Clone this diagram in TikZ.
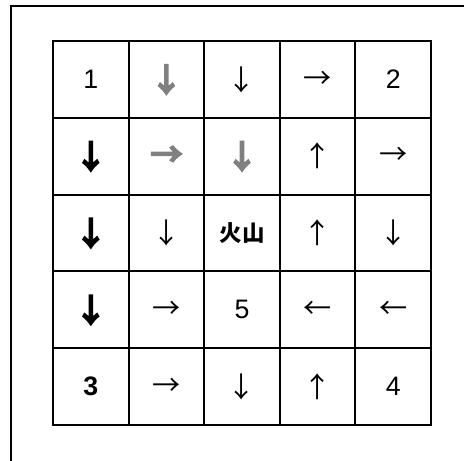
\documentclass[tikz,border=0pt]{standalone}
\usepackage{fontspec}
\usepackage{xcolor}
\setmainfont{Noto Sans CJK JP}
\newfontfamily\numfont{Liberation Sans}
\newfontfamily\heavyfont[FakeBold=8]{Noto Sans CJK JP}
\definecolor{fadedgray}{gray}{0.5}

% cell contents
\newcommand{\arrsize}{\fontsize{20}{20}\selectfont}
\newcommand{\tdown}{{\arrsize ↓}}
\newcommand{\tup}{{\arrsize ↑}}
\newcommand{\tright}{{\arrsize →}}
\newcommand{\tleft}{{\arrsize ←}}
\newcommand{\hdown}{{\heavyfont\fontsize{22}{22}\selectfont ↓}}
\newcommand{\gdown}{\textcolor{fadedgray}{\heavyfont\fontsize{22}{22}\selectfont ↓}}
\newcommand{\gright}{\textcolor{fadedgray}{\heavyfont\fontsize{22}{22}\selectfont →}}
\newcommand{\cnum}[1]{{\numfont\fontsize{19}{19}\selectfont #1}}
\newcommand{\bnum}[1]{{\numfont\fontsize{19}{19}\selectfont\bfseries #1}}

\begin{document}
\begin{tikzpicture}[
    x=0.025cm, y=-0.025cm,
    every node/.style={font=\fontsize{18}{18}\selectfont},
    cell/.style={draw, line width=1.4pt, minimum width=1.89cm, minimum height=1.92cm, inner sep=0pt, outer sep=0pt},
    frame/.style={line width=1.4pt}
]
\useasboundingbox (0,0) rectangle (464,460);
\clip (0,0) rectangle (464,460);
\draw[frame] (11,6) rectangle (480,480);

\foreach \line [count=\r] in {
    {\cnum{1}, \gdown, \tdown, \tright, \cnum{2}},
    {\hdown, \gright, \gdown, \tup, \tright},
    {\hdown, \tdown, {\fontsize{16}{16}\selectfont\bfseries 火山}, \tup, \tdown},
    {\hdown, \tright, \cnum{5}, \tleft, \tleft},
    {\bnum{3}, \tright, \tdown, \tup, \cnum{4}}}
{
    \foreach \t [count=\c] in \line
        \node[cell] (c-\r-\c) at ({53+75.6*(\c-0.5)}, {41+76.8*(\r-0.5)}) {\t};
}
\end{tikzpicture}
\end{document}
